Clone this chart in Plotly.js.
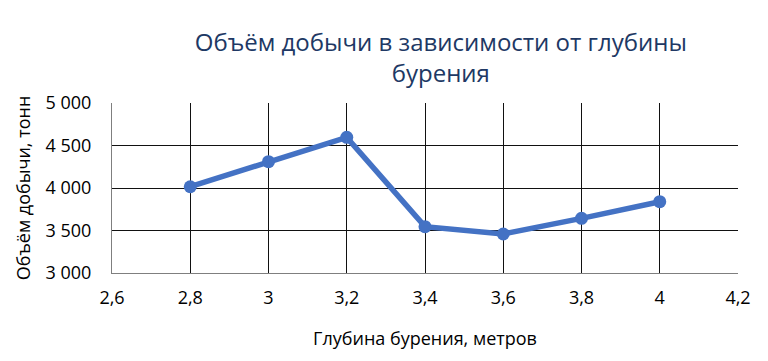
<!DOCTYPE html>
<html><head><meta charset="utf-8">
<script src="https://cdn.plot.ly/plotly-3.0.1.min.js"></script>
<style>html,body{margin:0;padding:0;background:#fff}</style>
</head><body>
<div id="chart" style="width:768px;height:361px"></div>
<script>
const depths = [2.8, 3.0, 3.2, 3.4, 3.6, 3.8, 4.0];
const volumes = [4015, 4310, 4596, 3545, 3459, 3643, 3839];
const xTicks = [2.6, 2.8, 3.0, 3.2, 3.4, 3.6, 3.8, 4.0, 4.2];
const yTicks = [3000, 3500, 4000, 4500, 5000];

const font = 'Open Sans, Noto Sans, sans-serif';
Plotly.newPlot('chart', [{
  x: depths, y: volumes, type: 'scatter', mode: 'lines+markers',
  line: {color: '#4472C4', width: 5.5},
  marker: {color: '#4472C4', size: 13},
  cliponaxis: false
}], {
  width: 768, height: 361,
  margin: {l: 112, r: 30, t: 103, b: 88},
  separators: ', ',
  paper_bgcolor: '#fff', plot_bgcolor: '#fff',
  font: {family: font, color: '#000'},
  title: {text: 'Объём добычи в зависимости от глубины<br>бурения', font: {size: 24, color: '#203864', family: font},
    x: 0.574, xref: 'container', xanchor: 'center', y: 0.86, yref: 'container', yanchor: 'top'},
  xaxis: {range: [2.6, 4.2], tickvals: xTicks, showgrid: true, gridcolor: '#111', gridwidth: 1,
    showline: true, linecolor: '#7f7f7f', linewidth: 1, mirror: false, zeroline: false, ticks: '',
    tickfont: {size: 18, family: font, color: '#000'}, ticklabelstandoff: 8,
    title: {text: 'Глубина бурения, метров', font: {size: 18, family: font, color: '#000'}, standoff: 24}},
  yaxis: {range: [3000, 5000], tickvals: yTicks, tickformat: ',d', showgrid: true, gridcolor: '#111', gridwidth: 1,
    showline: true, linecolor: '#7f7f7f', linewidth: 1, zeroline: false, ticks: '',
    tickfont: {size: 18, family: font, color: '#000'}, ticklabelstandoff: 16,
    title: {text: 'Объём добычи, тонн', font: {size: 18, family: font, color: '#000'}, standoff: 10}},
  showlegend: false
}, {displayModeBar: false, staticPlot: true});
</script>
</body></html>
